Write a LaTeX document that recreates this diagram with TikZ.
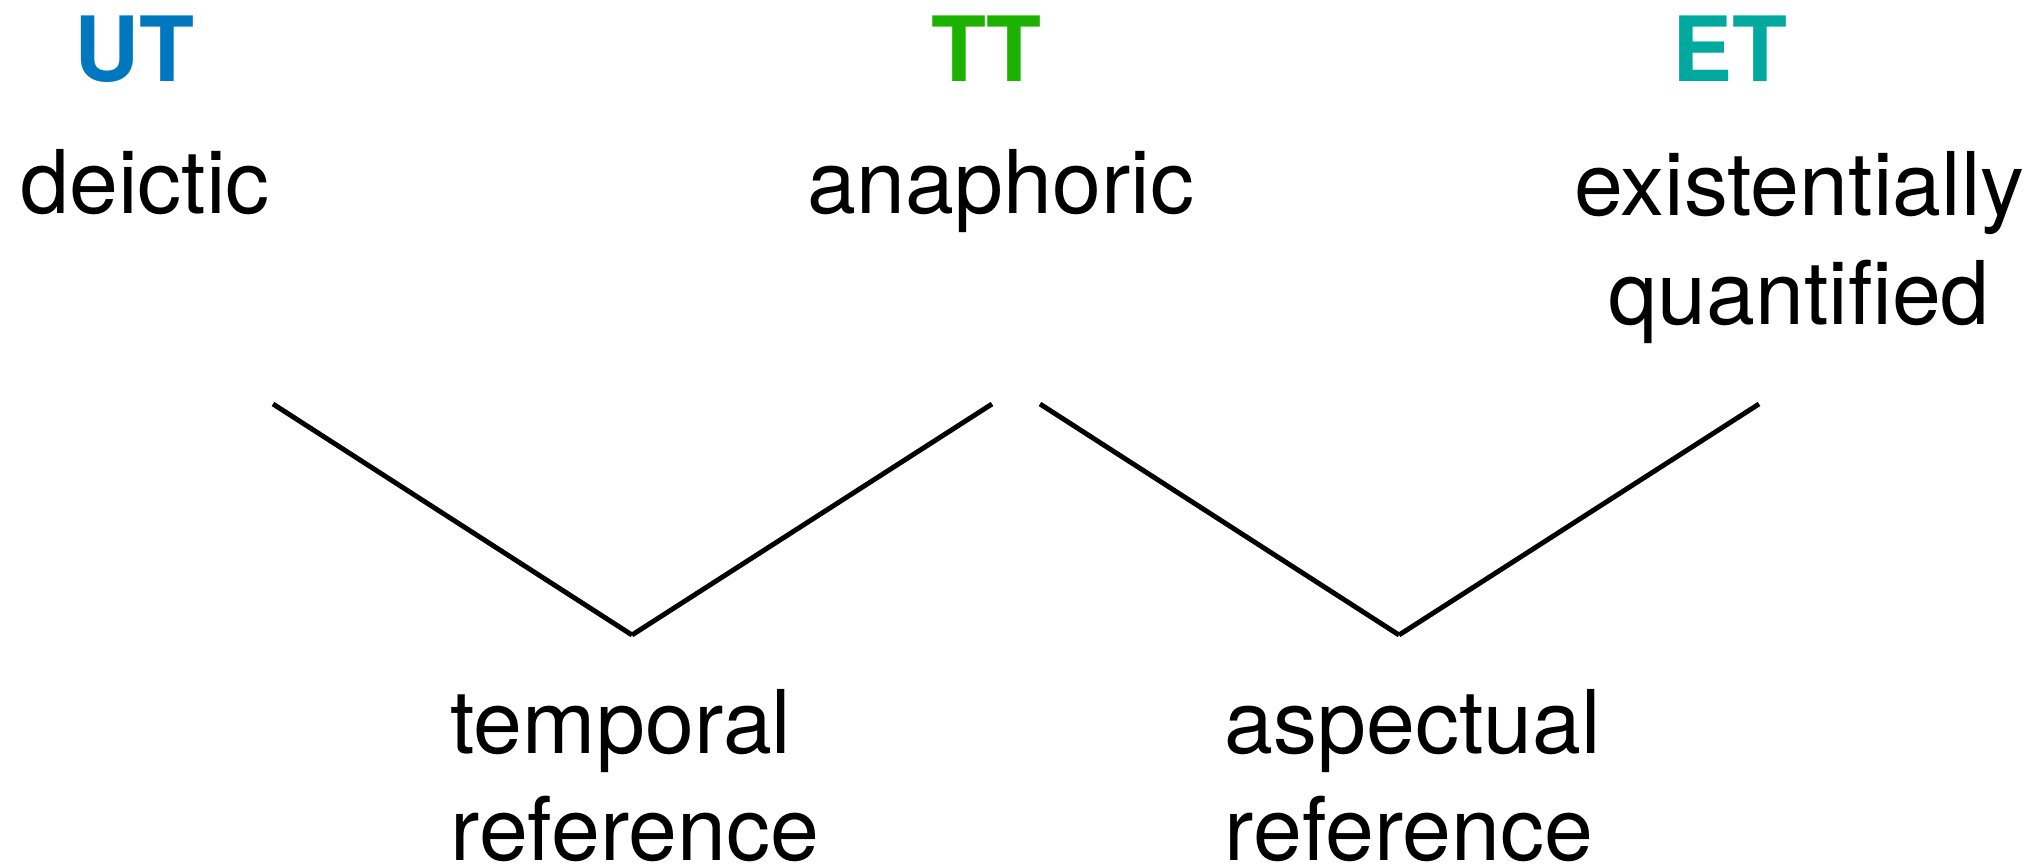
\documentclass[tikz,border=0pt]{standalone}
\usepackage{fontspec}
\setmainfont{TeX Gyre Heros}
\definecolor{utblue}{RGB}{0,119,190}
\definecolor{ttgreen}{RGB}{30,178,0}
\definecolor{etteal}{RGB}{0,169,158}
\begin{document}
\begin{tikzpicture}[x=0.01cm,y=-0.01cm,
  bodytext/.style={font=\fontsize{25}{30}\selectfont, inner sep=0pt, anchor=base},
  headtext/.style={font=\fontsize{25.6}{30}\selectfont\bfseries, inner sep=0pt, anchor=base},
  branch/.style={line width=1.4pt, line cap=butt}]
\useasboundingbox (0,0) rectangle (2031,868);

% headings
\node[headtext, text=utblue]  (ut) at (135,82) {UT};
\node[headtext, text=ttgreen] (tt) at (986,82) {TT};
\node[headtext, text=etteal]  (et) at (1730,82) {ET};

% readings of the three times
\node[bodytext] (deictic)   at (145,214)  {deictic};
\node[bodytext] (anaphoric) at (1001,214) {anaphoric};
\node[bodytext] (exist1)    at (1799,216) {existentially};
\node[bodytext] (exist2)    at (1799,325) {quantified};

% the two kinds of reference
\node[bodytext, anchor=base west] (temp1) at (450,754) {temporal};
\node[bodytext, anchor=base west] (temp2) at (450,861) {reference};
\node[bodytext, anchor=base west] (asp1)  at (1224,754) {aspectual};
\node[bodytext, anchor=base west] (asp2)  at (1224,861) {reference};

% end points of the branches
\coordinate (utend) at (273,404);
\coordinate (ttendl) at (992,404);
\coordinate (ttendr) at (1040,404);
\coordinate (etend) at (1759,404);
\coordinate (tempv) at (632,635);
\coordinate (aspv)  at (1399,635);

\draw[branch] (utend) -- (tempv);
\draw[branch] (tempv) -- (ttendl);
\draw[branch] (ttendr) -- (aspv);
\draw[branch] (aspv) -- (etend);
\end{tikzpicture}
\end{document}
